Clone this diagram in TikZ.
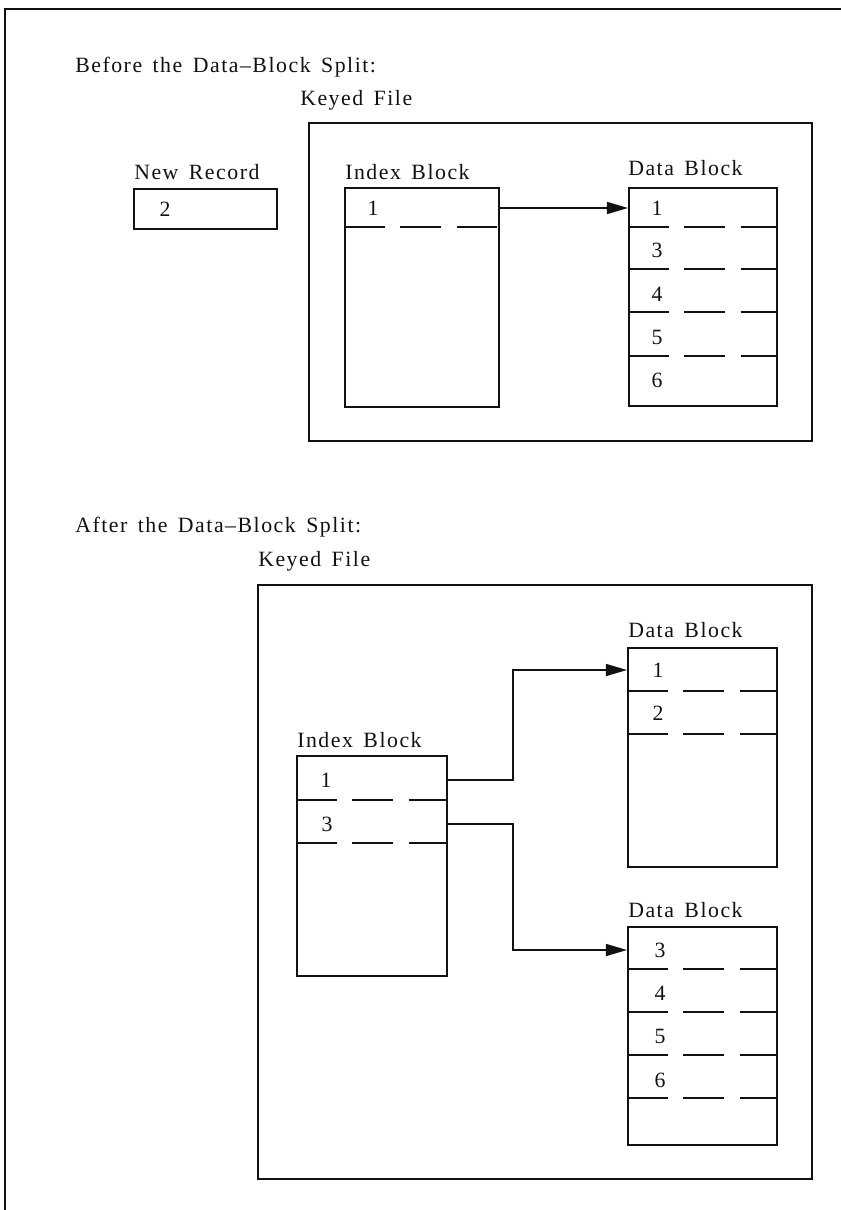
\documentclass[tikz,border=0pt]{standalone}
\usepackage{fontspec}
\setmainfont{Liberation Serif}[LetterSpace=7, WordSpace=1.5]
\definecolor{Ink}{HTML}{111111}
\usepackage{tikz}
\usetikzlibrary{positioning,calc,arrows.meta}

\tikzset{
  blockbox/.style={draw=Ink, line width=1.4pt, inner sep=0pt, anchor=north west},
  dashdiv/.style={draw=Ink, line width=1.4pt, dash pattern=on 29pt off 11pt},
  link/.style={draw=Ink, line width=1.2pt, -{Triangle[length=15pt,width=8.5pt]}},
  lbl/.style={font=\fontsize{15.5}{17}\selectfont, text=Ink, inner sep=0pt, anchor=west},
  num/.style={font=\fontsize{15.5}{17}\selectfont, text=Ink, inner sep=0pt}
}

\begin{document}
\begin{tikzpicture}[x=0.025cm, y=-0.025cm]
  \useasboundingbox (0,0) rectangle (841,1210);
  % outer frame, top and left only
  \draw[Ink, line width=1.4pt] (5,1210) -- (5,9) -- (841,9);

  % ---------- before the split ----------
  \node[lbl] (titleA) at (75,67) {Before the Data--Block Split:};
  \node[lbl] (kfA) at (300,100) {Keyed File};
  \node[blockbox, minimum width=12.575cm, minimum height=7.95cm] (fileA) at (308,122) {};

  \node[lbl] (nrlbl) at (134,172) {New Record};
  \node[blockbox, minimum width=3.575cm, minimum height=1cm] (newrec) at (133,188) {};
  \node[num] (nr2) at (165,209) {2};

  \node[lbl] (ixAlbl) at (345,172) {Index Block};
  \node[blockbox, minimum width=3.85cm, minimum height=5.475cm] (ixA) at (344,187) {};
  \draw[dashdiv] (ixA.west |- 0,227) -- (ixA.east |- 0,227);
  \node[num] (ixA1) at (373,208) {1};

  \node[lbl] (dbAlbl) at (628,168) {Data Block};
  \node[blockbox, minimum width=3.7cm, minimum height=5.45cm] (dbA) at (628,187) {};
  \foreach \yy in {227,269,312,356}
    \draw[dashdiv] (dbA.west |- 0,\yy) -- (dbA.east |- 0,\yy);
  \foreach \nn/\yy in {1/208,3/250,4/294,5/337,6/380}
    \node[num] (dbA\nn) at (657,\yy) {\nn};

  \draw[link] (ixA.east |- ixA1) -- (dbA.west |- ixA1);

  % ---------- after the split ----------
  \node[lbl] (titleB) at (75,527) {After the Data--Block Split:};
  \node[lbl] (kfB) at (258,561) {Keyed File};
  \node[blockbox, minimum width=13.85cm, minimum height=14.85cm] (fileB) at (257,584) {};

  \node[lbl] (dbBlbl) at (628,630) {Data Block};
  \node[blockbox, minimum width=3.725cm, minimum height=5.475cm] (dbB) at (627,647) {};
  \foreach \yy in {691,734}
    \draw[dashdiv] (dbB.west |- 0,\yy) -- (dbB.east |- 0,\yy);
  \foreach \nn/\yy in {1/670,2/713}
    \node[num] (dbB\nn) at (658,\yy) {\nn};

  \node[lbl] (ixBlbl) at (297,740) {Index Block};
  \node[blockbox, minimum width=3.75cm, minimum height=5.5cm] (ixB) at (296,755) {};
  \foreach \yy in {800,843}
    \draw[dashdiv] (ixB.west |- 0,\yy) -- (ixB.east |- 0,\yy);
  \node[num] (ixB1) at (326,780) {1};
  \node[num] (ixB3) at (327,824) {3};

  \node[lbl] (dbClbl) at (628,910) {Data Block};
  \node[blockbox, minimum width=3.725cm, minimum height=5.45cm] (dbC) at (627,926) {};
  \foreach \yy in {969,1012,1055,1098}
    \draw[dashdiv] (dbC.west |- 0,\yy) -- (dbC.east |- 0,\yy);
  \foreach \nn/\yy in {3/950,4/993,5/1036,6/1080}
    \node[num] (dbC\nn) at (660,\yy) {\nn};

  \coordinate (bendB) at (513,0);
  \draw[link] (ixB.east |- ixB1) -- (ixB1 -| bendB) -- (bendB |- dbB1) -- (dbB.west |- dbB1);
  \draw[link] (ixB.east |- ixB3) -- (ixB3 -| bendB) -- (bendB |- dbC3) -- (dbC.west |- dbC3);
\end{tikzpicture}
\end{document}
